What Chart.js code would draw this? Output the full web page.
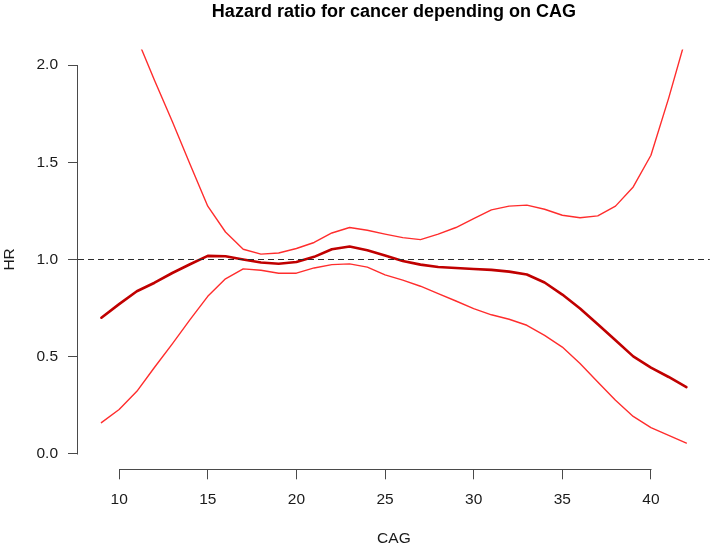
<!DOCTYPE html>
<html>
<head>
<meta charset="utf-8">
<script src="https://cdn.jsdelivr.net/npm/chart.js@4.4.1/dist/chart.umd.min.js"></script>
<style>
html, body { margin: 0; padding: 0; background: #ffffff; }
canvas { display: block; }
</style>
</head>
<body>
<canvas id="chart" width="711" height="548"></canvas>
<script>
// ---- data ----
const cag = [9,10,11,12,13,14,15,16,17,18,19,20,21,22,23,24,25,26,27,28,29,30,31,32,33,34,35,36,37,38,39,40,41,42];
const hrEstimate = [0.70,0.77,0.836,0.88,0.93,0.975,1.018,1.016,0.999,0.984,0.978,0.987,1.013,1.052,1.066,1.047,1.02,0.992,0.973,0.961,0.956,0.951,0.946,0.937,0.922,0.881,0.819,0.747,0.666,0.584,0.501,0.443,0.395,0.343];
const ciLower = [0.16,0.228,0.321,0.445,0.565,0.69,0.81,0.90,0.951,0.944,0.929,0.929,0.956,0.973,0.977,0.96,0.92,0.893,0.862,0.824,0.786,0.747,0.715,0.692,0.661,0.609,0.549,0.464,0.369,0.275,0.192,0.134,0.094,0.055];
const ciUpper = [null,null,2.14,1.92,1.71,1.49,1.274,1.141,1.052,1.027,1.033,1.056,1.087,1.136,1.164,1.15,1.13,1.112,1.102,1.13,1.164,1.21,1.255,1.274,1.279,1.258,1.227,1.214,1.224,1.274,1.373,1.536,1.83,2.15];
const xTickValues = [10,15,20,25,30,35,40];
const yTickValues = [0,0.5,1,1.5,2];
const referenceHR = 1;
const xRange = [7.68, 43.32];
const yRange = [-0.08, 2.08];
const titleText = 'Hazard ratio for cancer depending on CAG';
const xLabel = 'CAG';
const yLabel = 'HR';

const toPoints = ys => cag.map((x, i) => ({ x: x, y: ys[i] }));

const FONT = "'Liberation Sans', Arial, Helvetica, sans-serif";
const AXIS_COLOR = '#4a4a4a';
const TEXT_COLOR = '#1a1a1a';

const rAxes = {
  id: 'rAxes',
  afterDatasetsDraw(chart) {
    const { ctx, chartArea, scales } = chart;
    const xs = scales.x, ys = scales.y;
    ctx.save();
    // reference line
    const yRef = Math.round(ys.getPixelForValue(referenceHR)) + 0.5;
    ctx.strokeStyle = '#2b2b2b';
    ctx.lineWidth = 1;
    ctx.setLineDash([6, 4]);
    ctx.beginPath();
    ctx.moveTo(chartArea.left, yRef);
    ctx.lineTo(chartArea.right, yRef);
    ctx.stroke();
    ctx.setLineDash([]);
    // axis lines from first to last tick (R style)
    ctx.strokeStyle = AXIS_COLOR;
    const ax = Math.round(chartArea.left) - 0.5;
    ctx.beginPath();
    ctx.moveTo(ax, Math.round(ys.getPixelForValue(yTickValues[yTickValues.length - 1])) + 0.5);
    ctx.lineTo(ax, Math.round(ys.getPixelForValue(yTickValues[0])) + 0.5);
    ctx.stroke();
    const ay = Math.round(chartArea.bottom) + 0.5;
    ctx.beginPath();
    ctx.moveTo(Math.round(xs.getPixelForValue(xTickValues[0])) + 0.5, ay);
    ctx.lineTo(Math.round(xs.getPixelForValue(xTickValues[xTickValues.length - 1])) + 0.5, ay);
    ctx.stroke();
    ctx.restore();
  }
};

new Chart(document.getElementById('chart'), {
  type: 'line',
  data: {
    datasets: [
      { label: 'upper', data: toPoints(ciUpper), borderColor: 'rgb(255,45,45)', borderWidth: 1.4 },
      { label: 'lower', data: toPoints(ciLower), borderColor: 'rgb(255,45,45)', borderWidth: 1.4 },
      { label: 'HR', data: toPoints(hrEstimate), borderColor: '#c00000', borderWidth: 2.6 }
    ]
  },
  options: {
    responsive: false,
    animation: false,
    devicePixelRatio: 1,
    layout: { padding: { left: 0, right: 1.2, top: 0, bottom: 0 } },
    elements: {
      point: { radius: 0, hoverRadius: 0 },
      line: { tension: 0, borderJoinStyle: 'round', borderCapStyle: 'round', fill: false }
    },
    datasets: { line: { clip: 0, spanGaps: false } },
    plugins: {
      legend: { display: false },
      tooltip: { enabled: false },
      title: {
        display: true,
        text: titleText,
        fullSize: false,
        color: '#000',
        font: { family: FONT, size: 18, weight: 'bold', lineHeight: 1.2 },
        padding: { top: 1, bottom: 26.9 }
      }
    },
    scales: {
      x: {
        type: 'linear',
        position: 'bottom',
        min: xRange[0],
        max: xRange[1],
        afterBuildTicks: s => { s.ticks = xTickValues.map(v => ({ value: v })); },
        afterFit: s => { s.height = 78.7; },
        ticks: {
          color: TEXT_COLOR,
          font: { family: FONT, size: 15.5, lineHeight: 1.2 },
          padding: 11,
          maxRotation: 0,
          autoSkip: false,
          callback: v => String(v)
        },
        grid: { drawOnChartArea: false, drawTicks: true, tickLength: 10, color: AXIS_COLOR, lineWidth: 1 },
        border: { display: false },
        title: {
          display: true,
          text: xLabel,
          color: TEXT_COLOR,
          font: { family: FONT, size: 15.5, lineHeight: 1.2 },
          padding: { top: 0, bottom: 0 }
        }
      },
      y: {
        type: 'linear',
        position: 'left',
        min: yRange[0],
        max: yRange[1],
        afterBuildTicks: s => { s.ticks = yTickValues.map(v => ({ value: v })); },
        afterFit: s => { s.width = 78; },
        ticks: {
          color: TEXT_COLOR,
          font: { family: FONT, size: 15.5, lineHeight: 1.2 },
          padding: 10,
          autoSkip: false,
          callback: v => Number(v).toFixed(1)
        },
        grid: { drawOnChartArea: false, drawTicks: true, tickLength: 10, color: AXIS_COLOR, lineWidth: 1 },
        border: { display: false },
        title: {
          display: true,
          text: yLabel,
          color: TEXT_COLOR,
          font: { family: FONT, size: 15.5, lineHeight: 1.2 },
          padding: { top: 0, bottom: 0 }
        }
      }
    }
  },
  plugins: [rAxes]
});
</script>
</body>
</html>
